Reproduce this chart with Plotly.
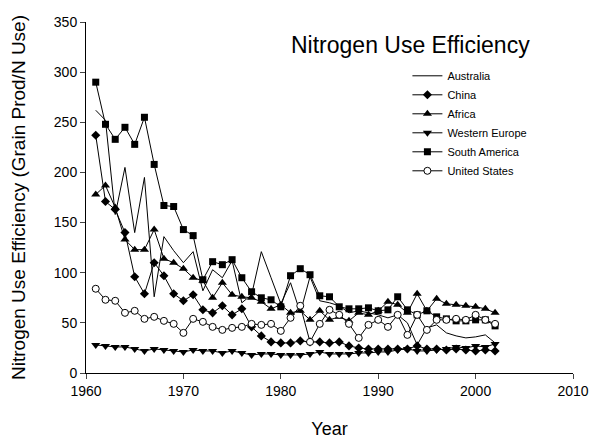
import plotly.graph_objects as go

years = list(range(1961, 2003))

australia = [262, 252, 158, 205, 140, 195, 76, 136, 122, 110, 121, 82, 103, 95, 112, 70, 78, 121, 95, 69,
             90, 60, 96, 72, 70, 67, 60, 62, 60, 58, 55, 58, 50, 28, 45, 48, 40, 37, 35, 36, 38, 30]
china = [237, 171, 163, 140, 96, 79, 110, 97, 79, 72, 78, 63, 60, 67, 58, 64, 46, 37, 31, 30,
         30, 32, 31, 31, 30, 31, 27, 25, 24, 24, 24, 24, 24, 27, 24, 24, 23, 24, 23, 22, 23, 22]
africa = [178, 187, 165, 133, 123, 123, 143, 114, 110, 104, 95, 92, 75, 90, 78, 76, 75, 71, 64, 68,
          60, 62, 53, 62, 53, 56, 52, 60, 58, 62, 71, 68, 60, 79, 62, 74, 69, 68, 67, 66, 64, 60]
w_europe = [28, 27, 26, 26, 24, 22, 24, 23, 22, 21, 23, 22, 22, 20, 22, 20, 18, 19, 19, 18,
            18, 18, 19, 21, 19, 19, 19, 20, 20, 21, 21, 23, 24, 22, 22, 23, 24, 26, 25, 27, 26, 29]
s_america = [290, 248, 233, 245, 228, 255, 208, 167, 166, 143, 137, 93, 111, 108, 113, 95, 81, 75, 73, 66,
             97, 104, 98, 77, 76, 66, 64, 64, 65, 62, 63, 76, 63, 58, 62, 56, 54, 52, 52, 53, 53, 47]
us = [84, 73, 72, 60, 62, 54, 56, 52, 49, 40, 54, 51, 46, 43, 45, 46, 49, 48, 49, 42,
      55, 67, 31, 49, 63, 58, 49, 35, 48, 53, 46, 58, 38, 58, 43, 53, 53, 54, 53, 58, 53, 49]

x_ticks = [1960, 1970, 1980, 1990, 2000, 2010]
y_ticks = [0, 50, 100, 150, 200, 250, 300, 350]

LINE = dict(color="black", width=1)
fig = go.Figure()
fig.add_trace(go.Scatter(x=years, y=australia, name="Australia", mode="lines", line=LINE))
fig.add_trace(go.Scatter(x=years, y=china, name="China", mode="lines+markers", line=LINE,
                         marker=dict(symbol="diamond", size=7, color="black")))
fig.add_trace(go.Scatter(x=years, y=africa, name="Africa", mode="lines+markers", line=LINE,
                         marker=dict(symbol="triangle-up", size=8, color="black")))
fig.add_trace(go.Scatter(x=years, y=w_europe, name="Western Europe", mode="lines+markers", line=LINE,
                         marker=dict(symbol="triangle-down", size=8, color="black")))
fig.add_trace(go.Scatter(x=years, y=s_america, name="South America", mode="lines+markers", line=LINE,
                         marker=dict(symbol="square", size=7, color="black")))
fig.add_trace(go.Scatter(x=years, y=us, name="United States", mode="lines+markers", line=LINE,
                         marker=dict(symbol="circle", size=7, color="white",
                                     line=dict(color="black", width=1))))

FONT = "Arial, Liberation Sans, sans-serif"
fig.update_layout(
    width=605, height=440,
    margin=dict(l=78, r=40, t=14, b=75, autoexpand=False),
    paper_bgcolor="white", plot_bgcolor="white",
    font=dict(family=FONT, color="black", size=14),
    showlegend=True,
    legend=dict(x=0.66, y=0.888, xanchor="left", yanchor="top",
                font=dict(size=11, family=FONT), bgcolor="rgba(0,0,0,0)",
                itemwidth=30, tracegroupgap=0),
    annotations=[dict(text="Nitrogen Use Efficiency", x=0.667, y=0.935, xref="paper", yref="paper",
                      xanchor="center", yanchor="middle",
                      showarrow=False, font=dict(size=23, family=FONT))],
)
fig.update_xaxes(range=[1960, 2010], tickvals=x_ticks, ticks="outside", ticklen=5,
                 showline=True, linecolor="black", linewidth=1, showgrid=False, zeroline=False,
                 title=dict(text="Year", font=dict(size=18), standoff=24), tickfont=dict(size=14))
fig.update_yaxes(range=[0, 350], tickvals=y_ticks, ticks="outside", ticklen=5,
                 showline=True, linecolor="black", linewidth=1, showgrid=False, zeroline=False,
                 title=dict(text="Nitrogen Use Efficiency (Grain Prod/N Use)", font=dict(size=19), standoff=24),
                 tickfont=dict(size=14))

fig.write_html("out.html")
